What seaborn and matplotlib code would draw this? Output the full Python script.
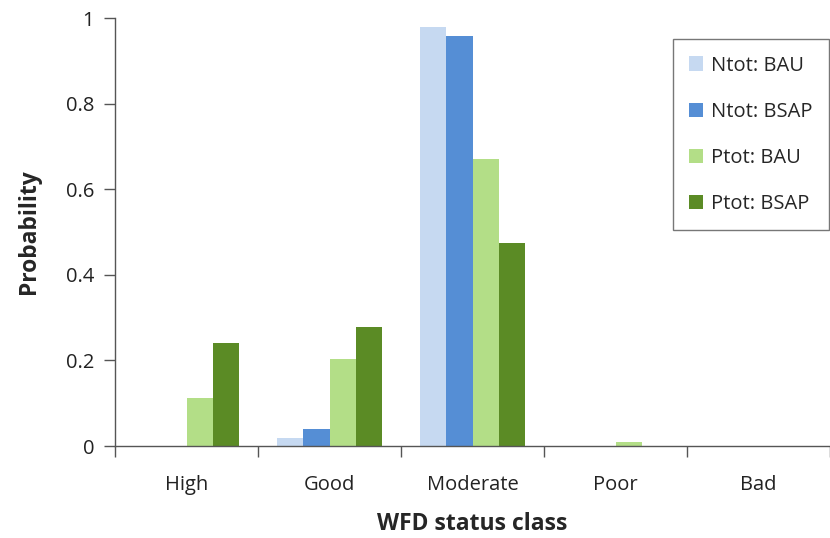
import pandas as pd
import numpy as np
import matplotlib.pyplot as plt
import seaborn as sns

# values
classes = ['High', 'Good', 'Moderate', 'Poor', 'Bad']
series = ['Ntot: BAU', 'Ntot: BSAP', 'Ptot: BAU', 'Ptot: BSAP']
ntot_bau = [0.0, 0.019, 0.979, 0.0, 0.0]
ntot_bsap = [0.0, 0.039, 0.957, 0.0, 0.0]
ptot_bau = [0.111, 0.204, 0.670, 0.009, 0.0]
ptot_bsap = [0.240, 0.277, 0.475, 0.0, 0.0]
colors = ['#c6d9f1', '#558ed5', '#b3de87', '#5b8b25']

rows = []
for name, vals in zip(series, [ntot_bau, ntot_bsap, ptot_bau, ptot_bsap]):
    for c, v in zip(classes, vals):
        rows.append({'cls': c, 'series': name, 'prob': v})
df = pd.DataFrame(rows)

sns.set_style('white')
plt.rcParams['font.family'] = ['Open Sans', 'DejaVu Sans']

fig = plt.figure(figsize=(8.3, 5.38), dpi=100)
ax = fig.add_axes([115 / 830, 92 / 538, 715 / 830, 428 / 538])

sns.barplot(data=df, x='cls', y='prob', hue='series', order=classes,
            hue_order=series, palette=colors, width=0.73, linewidth=0,
            saturation=1, ax=ax)

ax.set_xlim(-0.5, 4.4)
ax.set_ylim(0, 1)
ax.set_yticks(np.arange(0, 1.01, 0.2))
ax.set_yticklabels(['0', '0.2', '0.4', '0.6', '0.8', '1'])

# category boundaries carry the x tick marks
ax.set_xticks(np.arange(-0.5, 5.0, 1.0), minor=True)
ax.tick_params(axis='x', which='major', length=0, pad=21, labelsize=14.5, colors='#222222')
ax.tick_params(axis='x', which='minor', length=8, width=1, color='#555555', direction='out', bottom=True)
ax.tick_params(axis='y', length=8, width=1, color='#555555', direction='out', left=True,
               pad=7, labelsize=14.5, labelcolor='#222222')

sns.despine(ax=ax, top=True, right=True)
for s in ['left', 'bottom']:
    ax.spines[s].set_color('#555555')
    ax.spines[s].set_linewidth(1)

ax.set_xlabel('WFD status class', fontsize=16.5, fontweight='bold', labelpad=12)
ax.set_ylabel('Probability', fontsize=16.5, fontweight='bold', labelpad=18)

leg = ax.legend(loc='upper right', bbox_to_anchor=(0.998, 0.95), fontsize=14.5,
                frameon=True, fancybox=False, handlelength=0.7, handleheight=0.7,
                labelspacing=1.3, handletextpad=0.4, borderpad=0.8, borderaxespad=0)
leg.get_frame().set_edgecolor('#555555')
leg.get_frame().set_linewidth(1)

plt.savefig('out.png', dpi=100)
plt.close()
